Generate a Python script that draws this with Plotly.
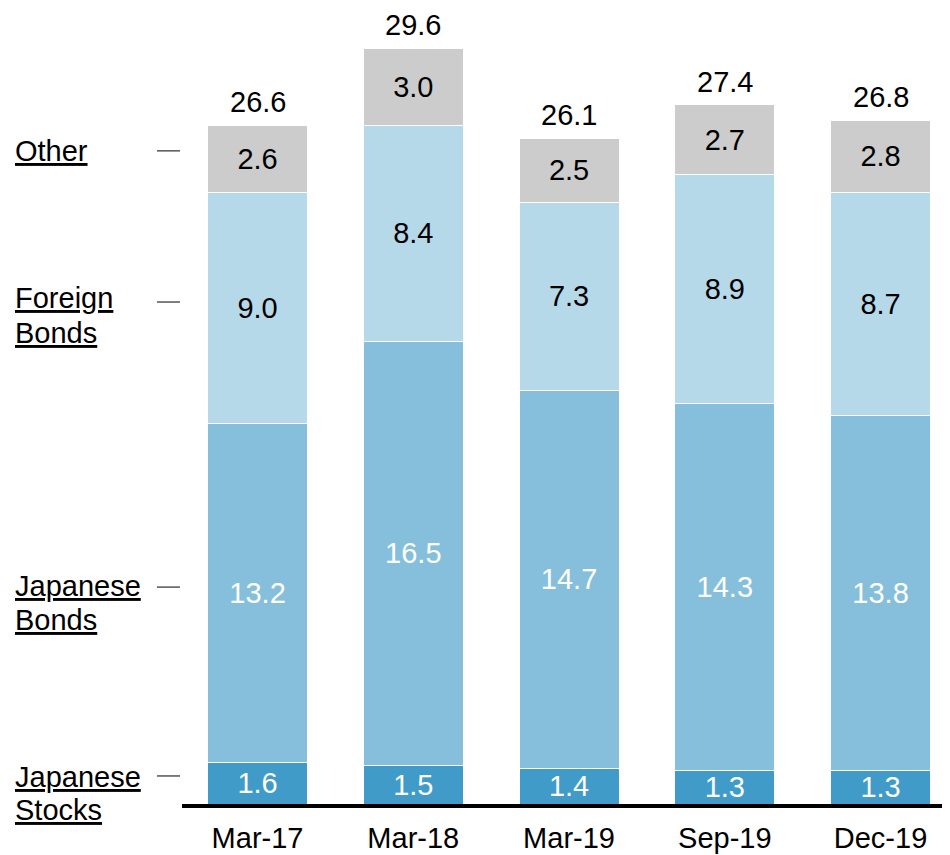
import plotly.graph_objects as go

categories = ["Mar-17", "Mar-18", "Mar-19", "Sep-19", "Dec-19"]
japanese_stocks = [1.6, 1.5, 1.4, 1.3, 1.3]
japanese_bonds = [13.2, 16.5, 14.7, 14.3, 13.8]
foreign_bonds = [9.0, 8.4, 7.3, 8.9, 8.7]
other = [2.6, 3.0, 2.5, 2.7, 2.8]
totals = [26.6, 29.6, 26.1, 27.4, 26.8]

series_names = ["Japanese Stocks", "Japanese Bonds", "Foreign Bonds", "Other"]
series_values = [japanese_stocks, japanese_bonds, foreign_bonds, other]
series_colors = ["#409bc9", "#86bfdb", "#b6d9ea", "#cccccc"]
text_colors = ["white", "white", "black", "black"]

Y_MAX = 30.97

# left-side labels: list of (line text, line y) and dash y, in data units
side_labels = [
    ([("Other", 25.41)], 25.41),
    ([("Foreign", 19.69), ("Bonds", 18.33)], 19.53),
    ([("Japanese", 8.48), ("Bonds", 7.16)], 8.44),
    ([("Japanese", 1.05), ("Stocks", -0.23)], 1.09),
]

FONT = "Liberation Sans, Arial, sans-serif"
FS = 29

fig = go.Figure()
for name, vals, col, tcol in zip(series_names, series_values, series_colors, text_colors):
    fig.add_trace(go.Bar(
        x=categories, y=vals, name=name,
        marker=dict(color=col, line=dict(color="white", width=1)),
        width=0.642,
        text=[f"{v:.1f}" for v in vals],
        textposition="inside",
        insidetextanchor="middle",
        textfont=dict(color=tcol, size=FS, family=FONT),
        hoverinfo="skip",
    ))

annotations = []
for c, t, s in zip(categories, totals, zip(*series_values)):
    annotations.append(dict(
        x=c, y=sum(s), xref="x", yref="y", text=f"{t:.1f}", showarrow=False,
        yanchor="middle", yshift=23, font=dict(size=FS, color="black", family=FONT),
    ))

shapes = []
for lines, dy in side_labels:
    for txt, ly in lines:
        annotations.append(dict(
            x=-0.2201, y=ly / Y_MAX, xref="paper", yref="paper", text=f"<u>{txt}</u>",
            showarrow=False, xanchor="left", yanchor="middle", align="left",
            font=dict(size=FS, color="black", family=FONT),
        ))
    shapes.append(dict(
        type="line", xref="paper", yref="y", x0=-0.0326, x1=-0.0026, y0=dy, y1=dy,
        line=dict(color="black", width=1),
    ))

fig.update_layout(
    width=950, height=855,
    barmode="stack",
    showlegend=False,
    plot_bgcolor="white", paper_bgcolor="white",
    margin=dict(l=174, r=8, t=0, b=59),
    font=dict(family=FONT, size=FS, color="black"),
    uniformtext=dict(minsize=FS, mode="show"),
    xaxis=dict(
        range=[-0.485, 4.446], showline=True, linecolor="black", linewidth=4,
        ticks="", showgrid=False, tickfont=dict(size=FS, color="black", family=FONT),
        ticklabelstandoff=5, fixedrange=True,
    ),
    yaxis=dict(range=[0, Y_MAX], visible=False, showgrid=False, fixedrange=True),
    annotations=annotations,
    shapes=shapes,
)

fig.write_html("out.html")
